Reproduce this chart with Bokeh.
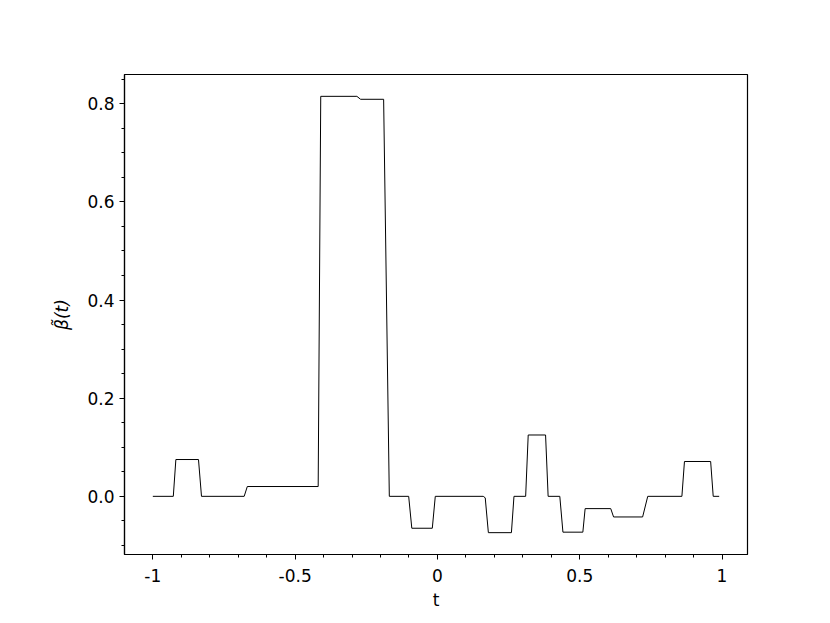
from bokeh.plotting import figure
from bokeh.models import FixedTicker, Range1d
from bokeh.embed import file_html
from bokeh.resources import INLINE

# Vertices of the beta-tilde curve (t, value)
t_vals = [-1.0, -0.928, -0.919, -0.8395, -0.829, -0.679, -0.668, -0.419, -0.410,
          -0.283, -0.270, -0.189, -0.169, -0.101, -0.090, -0.018, -0.0075,
          0.161, 0.168, 0.179, 0.260, 0.269, 0.310, 0.319, 0.380, 0.389,
          0.430, 0.441, 0.511, 0.519, 0.609, 0.619, 0.721, 0.739,
          0.859, 0.868, 0.960, 0.969, 0.990]
beta_vals = [0.0, 0.0, 0.075, 0.075, 0.0, 0.0, 0.020, 0.020, 0.815,
             0.815, 0.809, 0.809, 0.0, 0.0, -0.065, -0.065, 0.0,
             0.0, -0.003, -0.074, -0.074, 0.0, 0.0, 0.125, 0.125, 0.0,
             0.0, -0.073, -0.073, -0.025, -0.025, -0.042, -0.042, 0.0,
             0.0, 0.071, 0.071, 0.0, 0.0]

x_major = [-1, -0.5, 0, 0.5, 1]
x_labels = ["-1", "-0.5", "0", "0.5", "1"]
x_minor = [round(-1.0 + 0.1 * i, 2) for i in range(21)]
y_major = [0.0, 0.2, 0.4, 0.6, 0.8]
y_labels = ["0.0", "0.2", "0.4", "0.6", "0.8"]
y_minor = [round(-0.1 + 0.05 * i, 2) for i in range(20)]

p = figure(width=814, height=615, output_backend="svg", toolbar_location=None,
           x_range=Range1d(-1.0995, 1.0895), y_range=Range1d(-0.1185, 0.8595),
           min_border_left=124, min_border_right=67, min_border_top=74, min_border_bottom=61)

p.line(t_vals, beta_vals, line_color="black", line_width=1)

p.xgrid.visible = False
p.ygrid.visible = False
p.outline_line_color = "black"
p.outline_line_width = 1.2
p.background_fill_color = "white"
p.border_fill_color = "white"

p.xaxis.ticker = FixedTicker(ticks=x_major, minor_ticks=x_minor)
p.yaxis.ticker = FixedTicker(ticks=y_major, minor_ticks=y_minor)
p.xaxis.major_label_overrides = {v: l for v, l in zip(x_major, x_labels)}
p.yaxis.major_label_overrides = {v: l for v, l in zip(y_major, y_labels)}

for ax in (p.xaxis, p.yaxis):
    ax.axis_line_color = "black"
    ax.axis_line_width = 1.2
    ax.major_tick_line_color = "black"
    ax.minor_tick_line_color = "black"
    ax.major_tick_out = 5
    ax.major_tick_in = 0
    ax.minor_tick_out = 3
    ax.minor_tick_in = 0
    ax.major_label_text_font = "DejaVu Sans"
    ax.major_label_text_font_size = "17px"
    ax.major_label_text_color = "black"
    ax.major_label_standoff = 5
    ax.axis_label_text_font = "DejaVu Sans"
    ax.axis_label_text_font_size = "17px"
    ax.axis_label_text_color = "black"

p.xaxis.major_label_standoff = 9
p.xaxis.axis_label = "t"
p.xaxis.axis_label_text_font_style = "normal"
p.xaxis.axis_label_standoff = 5
p.yaxis.axis_label = "\u03b2\u0303(t)"
p.yaxis.axis_label_text_font_style = "italic"
p.yaxis.axis_label_standoff = 12
p.yaxis.major_label_orientation = "horizontal"

open("out.html", "w").write(file_html(p, INLINE))
